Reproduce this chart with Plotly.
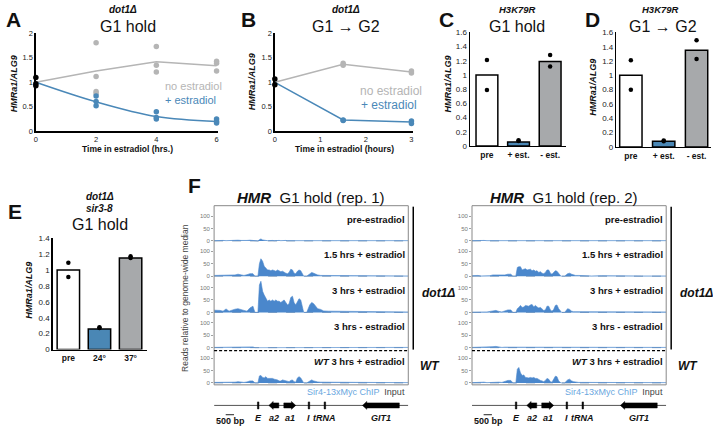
import plotly.graph_objects as go

W, H = 713, 430
FONT = "Liberation Sans, Arial, Helvetica, sans-serif"

# ---------------- data ----------------
# Panel A  (dot1Δ, G1 hold)
A_TIME = [0, 2, 4, 6]
A_NOEST_LINE = [1.0, 1.23, 1.42, 1.34]
A_EST_LINE = [1.0, 0.60, 0.30, 0.20]
A_PRE_V = [1.10, 0.97, 0.93]
A_NOEST_T = [2, 2, 2, 2, 4, 4, 4, 6, 6, 6]
A_NOEST_V = [1.81, 1.12, 0.81, 0.77, 1.73, 1.35, 1.21, 1.43, 1.39, 1.23]
A_EST_T = [2, 2, 2, 4, 4, 4, 6, 6, 6]
A_EST_V = [0.72, 0.61, 0.52, 0.40, 0.28, 0.25, 0.25, 0.20, 0.17]

# Panel B  (dot1Δ, G1 -> G2)
B_TIME = [0, 1.5, 3]
B_NOEST_LINE = [1.0, 1.37, 1.21]
B_EST_LINE = [1.0, 0.23, 0.19]
B_PRE_V = [1.07, 0.95]
B_NOEST_T = [1.5, 1.5, 3, 3]
B_NOEST_V = [1.39, 1.35, 1.23, 1.19]
B_EST_T = [1.5, 1.5, 3, 3]
B_EST_V = [0.23, 0.22, 0.21, 0.16]

# Panels C, D, E (bars + replicate dots)
CD_CATS = ["pre", "+ est.", "- est."]
C_BARS = [1.0, 0.055, 1.19]
C_DOT_X = [0, 0, 1, 1, 2, 2]
C_DOT_Y = [1.21, 0.79, 0.07, 0.08, 1.28, 1.12]
D_BARS = [1.0, 0.08, 1.35]
D_DOT_X = [0, 0, 1, 1, 2, 2]
D_DOT_Y = [1.21, 0.80, 0.09, 0.08, 1.49, 1.23]
E_CATS = ["pre", "24°", "37°"]
E_BARS = [1.0, 0.26, 1.15]
E_DOT_X = [0, 0, 1, 1, 2, 2]
E_DOT_Y = [1.09, 0.91, 0.27, 0.28, 1.17, 1.15]

# Panel F: Sir4 ChIP coverage across HMR (bin index, 60 bp bins)
BIN_KB = 0.06
F_SPAN_BINS = 195
F_BINS = [0, 3, 6, 9, 12, 15, 18, 21, 24, 27,
          30, 33, 36, 39, 41, 44, 45.5, 47, 48.7, 50.3,
          52, 53.7, 55.3, 57, 58.7, 60.3, 62, 63.7, 65.3, 67,
          68.7, 70.3, 72, 73.7, 75.3, 77, 78.7, 80.3, 82, 83.7,
          85.3, 87, 88.7, 90, 93, 96, 98, 100, 102, 104,
          107, 110, 115, 120, 130, 140, 150, 160, 170, 180,
          190, 195]
TRACK_NAMES = ["pre-estradiol", "1.5 hrs + estradiol", "3 hrs + estradiol",
               "3 hrs - estradiol", "<i>WT</i> 3 hrs + estradiol"]
L_PRE = [1, 2, 1, 2, 1, 2, 1, 2, 3, 2, 1, 2, 3, 2, 0, 0, 5, 8, 4, 2,
         2, 1, 2, 1, 2, 1, 2, 1, 2, 1, 2, 1, 2, 1, 1, 2, 2, 1, 1, 2,
         2, 2, 1, 0, 1, 2, 1, 2, 1, 1, 2, 1, 1, 2, 1, 1, 2, 1, 1, 2, 1, 1]
L_15 = [3, 3, 3, 2, 2, 2, 2, 5, 8, 5, 3, 6, 10, 10, 0, 0, 50, 70, 60, 40,
        30, 25, 25, 22, 25, 22, 20, 25, 22, 18, 20, 15, 12, 10, 15, 28, 25, 12, 10, 20,
        25, 22, 10, 0, 0, 8, 15, 12, 8, 5, 3, 3, 2, 2, 1, 2, 1, 2, 1, 2, 1, 1]
L_3P = [9, 9, 8, 5, 14, 5, 10, 13, 15, 10, 8, 5, 18, 25, 0, 0, 110, 125, 85, 70,
        60, 45, 50, 45, 50, 45, 50, 45, 45, 40, 45, 50, 40, 30, 35, 60, 65, 40, 30, 45,
        55, 50, 20, 0, 0, 30, 40, 35, 25, 15, 12, 6, 5, 5, 4, 3, 3, 2, 3, 2, 3, 2]
L_3M = [1, 1, 1, 1, 1, 1, 1, 2, 2, 1, 1, 3, 4, 3, 0, 0, 3, 3, 2, 3,
        3, 2, 2, 2, 1, 2, 2, 1, 2, 1, 1, 1, 2, 1, 1, 1, 2, 1, 1, 1,
        1, 1, 1, 0, 1, 1, 2, 1, 1, 1, 1, 1, 1, 1, 1, 1, 1, 1, 1, 1, 1, 1]
L_WT = [2, 2, 2, 1, 2, 1, 2, 3, 5, 3, 2, 4, 8, 8, 0, 0, 28, 30, 22, 20,
        25, 18, 18, 20, 18, 15, 15, 12, 8, 8, 12, 10, 8, 5, 5, 10, 12, 5, 3, 20,
        25, 20, 5, 0, 0, 8, 12, 8, 5, 4, 3, 3, 2, 2, 1, 2, 1, 1, 2, 1, 1, 1]
R_PRE = [1, 2, 1, 1, 2, 1, 1, 2, 2, 1, 1, 2, 2, 1, 0, 0, 2, 3, 2, 2,
         1, 2, 1, 2, 1, 2, 1, 2, 1, 1, 2, 1, 1, 1, 2, 1, 1, 1, 1, 2,
         1, 1, 1, 0, 1, 1, 1, 1, 1, 1, 2, 1, 1, 1, 1, 1, 2, 1, 1, 1, 1, 1]
R_15 = [2, 3, 3, 1, 1, 1, 2, 5, 5, 3, 2, 5, 8, 8, 0, 0, 35, 38, 38, 25,
        28, 30, 25, 25, 28, 22, 25, 20, 22, 15, 18, 12, 10, 15, 25, 25, 12, 8, 15, 22,
        20, 10, 3, 0, 0, 10, 12, 8, 4, 3, 3, 2, 2, 1, 2, 1, 1, 2, 1, 1, 2, 1]
R_3P = [1, 2, 1, 2, 2, 2, 3, 6, 8, 4, 2, 6, 10, 10, 0, 0, 15, 20, 28, 20,
        22, 28, 25, 25, 30, 32, 22, 28, 22, 18, 20, 12, 8, 10, 25, 25, 10, 5, 12, 28,
        30, 15, 3, 0, 0, 15, 12, 5, 3, 3, 2, 2, 2, 1, 3, 1, 2, 1, 3, 1, 1, 2]
R_3M = [1, 1, 1, 1, 1, 1, 2, 4, 5, 2, 1, 2, 2, 1, 0, 0, 2, 2, 2, 3,
        3, 2, 2, 3, 2, 2, 3, 2, 1, 2, 1, 1, 1, 1, 2, 1, 1, 1, 1, 1,
        2, 1, 1, 0, 1, 1, 1, 1, 1, 1, 1, 1, 1, 1, 1, 1, 1, 1, 1, 1, 1, 1]
R_WT = [1, 2, 1, 3, 3, 1, 2, 4, 5, 3, 2, 6, 10, 10, 0, 0, 55, 62, 40, 30,
        32, 22, 20, 20, 22, 20, 22, 18, 18, 12, 10, 8, 5, 10, 18, 15, 5, 3, 15, 27,
        25, 8, 2, 0, 0, 12, 15, 8, 5, 3, 2, 2, 2, 1, 1, 2, 1, 1, 1, 1, 1, 1]

# gene annotation (kb from left edge of the window)
GENE_NAMES = ["E", "a2", "a1", "I", "tRNA", "GIT1"]
GENE_START = [2.61, 3.30, 4.20, 5.67, 6.63, 8.94]
GENE_END = [2.70, 3.90, 4.92, 5.76, 6.72, 11.16]
GENE_STRAND = [0, -1, 1, 0, 0, -1]
SCALE_START_KB = 0.70
SCALE_KB = 0.5

# ---------------- styling / helpers ----------------
BLUE = "#4a88b8"
GREY = "#b5b5b5"
TRACK_BLUE = "#4a87cc"
BAR_COLORS = ["white", "#4a87b5", "#a7a9ab"]

fig = go.Figure()
layout = dict(width=W, height=H, margin=dict(l=0, r=0, t=0, b=0),
              paper_bgcolor="white", plot_bgcolor="white", showlegend=False,
              font=dict(family=FONT, color="#111"))
annotations = []
shapes = []


def fx(x):
    return x / W


def fy(y):
    return 1 - y / H


def add_axes(n, xpx, ypx, xr, yr, xkw=None, ykw=None):
    sfx = "" if n == 1 else str(n)
    base = dict(showgrid=False, zeroline=False, fixedrange=True)
    xa = dict(base, domain=[fx(xpx[0]), fx(xpx[1])], range=xr, anchor="y" + sfx)
    ya = dict(base, domain=[fy(ypx[0]), fy(ypx[1])], range=yr, anchor="x" + sfx)
    xa.update(xkw or {})
    ya.update(ykw or {})
    layout["xaxis" + sfx] = xa
    layout["yaxis" + sfx] = ya
    return "x" + sfx, "y" + sfx


def ann(text, x, y, size, color="#111", xanchor="center", yanchor="middle", angle=0):
    annotations.append(dict(text=text, x=fx(x), y=fy(y), xref="paper", yref="paper",
                            xanchor=xanchor, yanchor=yanchor, showarrow=False,
                            textangle=angle, font=dict(size=size, color=color, family=FONT)))


AX = dict(showline=True, linecolor="black", linewidth=1.5, ticks="",
          tickfont=dict(size=7.5, color="#222"))
BAR_X = dict(showline=True, linecolor="black", linewidth=1.5, ticks="",
             tickfont=dict(size=8.5, color="#111"))
BAR_Y = dict(AX, tickfont=dict(size=8, color="#222"))


def line_panel(n, xpx, ypx, xr, xticks, time, noest_line, est_line, pre_v,
               noest_t, noest_v, est_t, est_v, spline):
    xa, ya = add_axes(n, xpx, ypx, xr, [0, 2], dict(AX, tickvals=xticks),
                      dict(AX, tickvals=[0, 0.5, 1, 1.5, 2]))
    common = dict(xaxis=xa, yaxis=ya, cliponaxis=False, hoverinfo="skip")
    fig.add_trace(go.Scatter(x=time, y=noest_line, mode="lines",
                             line=dict(color=GREY, width=1.5), **common))
    fig.add_trace(go.Scatter(x=time, y=est_line, mode="lines",
                             line=dict(color=BLUE, width=1.5,
                                       shape="spline" if spline else "linear"), **common))
    fig.add_trace(go.Scatter(x=noest_t, y=noest_v, mode="markers",
                             marker=dict(color=GREY, size=5.5), **common))
    fig.add_trace(go.Scatter(x=est_t, y=est_v, mode="markers",
                             marker=dict(color=BLUE, size=5.5), **common))
    fig.add_trace(go.Scatter(x=[time[0]] * len(pre_v), y=pre_v, mode="markers",
                             marker=dict(color="black", size=5.5), **common))


line_panel(1, (34, 217), (130, 30), [0, 6.05], [0, 2, 4, 6], A_TIME, A_NOEST_LINE,
           A_EST_LINE, A_PRE_V, A_NOEST_T, A_NOEST_V, A_EST_T, A_EST_V, True)
line_panel(2, (274, 413), (130, 30), [0, 3.04], [0, 1, 2, 3], B_TIME, B_NOEST_LINE,
           B_EST_LINE, B_PRE_V, B_NOEST_T, B_NOEST_V, B_EST_T, B_EST_V, False)


def bar_panel(n, xpx, ypx, xr, yr, yticks, cats, bars, dot_x, dot_y, width):
    xa, ya = add_axes(n, xpx, ypx, xr, yr,
                      dict(BAR_X, tickvals=list(range(len(cats))),
                           ticktext=["<b>%s</b>" % c for c in cats]),
                      dict(BAR_Y, tickvals=yticks))
    fig.add_trace(go.Bar(x=list(range(len(cats))), y=bars, width=width,
                         marker=dict(color=BAR_COLORS, line=dict(color="black", width=1.5)),
                         xaxis=xa, yaxis=ya, hoverinfo="skip"))
    fig.add_trace(go.Scatter(x=dot_x, y=dot_y, mode="markers",
                             marker=dict(color="black", size=4.5),
                             xaxis=xa, yaxis=ya, cliponaxis=False, hoverinfo="skip"))


T16 = [0, 0.2, 0.4, 0.6, 0.8, 1, 1.2, 1.4, 1.6]
T14 = [0, 0.2, 0.4, 0.6, 0.8, 1, 1.2, 1.4]
bar_panel(3, (470, 566), (145, 29), [-0.535, 2.49], [0, 1.6], T16, CD_CATS, C_BARS,
          C_DOT_X, C_DOT_Y, 0.69)
bar_panel(4, (617, 712), (146, 29), [-0.44, 2.44], [0, 1.6], T16, CD_CATS, D_BARS,
          D_DOT_X, D_DOT_Y, 0.68)
bar_panel(5, (51, 146), (353, 239), [-0.5, 2.54], [0, 1.4], T14, E_CATS, E_BARS,
          E_DOT_X, E_DOT_Y, 0.72)

# ---------------- panel F ----------------
S = 0.254  # px per coverage unit
TRACK_ZERO_PX = [242, 278, 315, 351, 387]
TRACK_Y = dict(tickvals=[0, 50, 100], ticks="outside", ticklen=2, tickwidth=0.8,
               tickcolor="#888", tickfont=dict(size=6, color="#777"), showline=False)
xs_kb = [b * BIN_KB for b in F_BINS]
span_kb = F_SPAN_BINS * BIN_KB
sides = [(213, 408, [L_PRE, L_15, L_3P, L_3M, L_WT], "rep. 1", 310),
         (472, 667, [R_PRE, R_15, R_3P, R_3M, R_WT], "rep. 2", 564)]

for si, (xl, xrp, tracks, rep, tcx) in enumerate(sides):
    for i, vals in enumerate(tracks):
        n = 6 + si * 5 + i
        y0 = TRACK_ZERO_PX[i]
        xa, ya = add_axes(n, (xl, xrp), (y0 + 2, y0 - 34), [0, span_kb],
                          [-2 / S, 34 / S], dict(visible=False), dict(TRACK_Y))
        shapes.append(dict(type="line", xref=xa + " domain", x0=0, x1=1, yref=ya, y0=0, y1=0,
                           line=dict(color="#8fa3bb", width=1, dash="dash"), layer="below"))
        fig.add_trace(go.Scatter(x=xs_kb, y=vals, mode="lines", fill="tozeroy",
                                 fillcolor=TRACK_BLUE, line=dict(color=TRACK_BLUE, width=0.6),
                                 xaxis=xa, yaxis=ya, hoverinfo="skip"))
        ann("<b>%s</b>" % TRACK_NAMES[i], xrp - 1, y0 - 22, 9.5, xanchor="right")
    # box + separators
    shapes.append(dict(type="rect", xref="paper", yref="paper", x0=fx(xl), x1=fx(xrp),
                       y0=fy(389), y1=fy(206), line=dict(color="#888", width=1)))
    shapes.append(dict(type="line", xref="paper", yref="paper", x0=fx(xl), x1=fx(xrp),
                       y0=fy(354), y1=fy(354), line=dict(color="black", width=1.3, dash="3px,2px")))
    shapes.append(dict(type="line", xref="paper", yref="paper", x0=fx(xrp + 5), x1=fx(xrp + 5),
                       y0=fy(207), y1=fy(353), line=dict(color="black", width=1.5)))
    ann("<b><i>dot1Δ</i></b>", xrp + 12, 295, 12, xanchor="left")
    ann("<b><i>WT</i></b>", xrp + 10, 370, 12, xanchor="left")
    ann("<b><i>HMR</i></b>  G1 hold (%s)" % rep, tcx, 198, 15)
    ann('<span style="color:#6aa7e0">Sir4-13xMyc ChIP</span>  Input', xrp - 1, 396, 9,
        color="#444", xanchor="right")
    # gene annotation
    n = 16 + si
    xa, ya = add_axes(n, (xl, xrp), (420, 400), [0, span_kb], [-1, 1],
                      dict(visible=False), dict(visible=False))
    shapes.append(dict(type="line", xref=xa, yref=ya, x0=0, x1=span_kb, y0=0, y1=0,
                       line=dict(color="#555", width=1), layer="below"))
    for name, s0, s1, strand in zip(GENE_NAMES, GENE_START, GENE_END, GENE_STRAND):
        if strand == 0:
            px_ = [s0, s1, s1, s0, s0]
            py_ = [-0.36, -0.36, 0.36, 0.36, -0.36]
        else:
            hl = min(0.26, (s1 - s0) * 0.45)
            if strand < 0:
                px_ = [s1, s0 + hl, s0 + hl, s0, s0 + hl, s0 + hl, s1, s1]
            else:
                px_ = [s0, s1 - hl, s1 - hl, s1, s1 - hl, s1 - hl, s0, s0]
            py_ = [0.26, 0.26, 0.4, 0, -0.4, -0.26, -0.26, 0.26]
        fig.add_trace(go.Scatter(x=px_, y=py_, mode="lines", fill="toself", fillcolor="black",
                                 line=dict(color="black", width=0.5), xaxis=xa, yaxis=ya,
                                 hoverinfo="skip"))
        annotations.append(dict(text="<b><i>%s</i></b>" % name, x=(s0 + s1) / 2, xref=xa,
                                y=fy(423), yref="paper", xanchor="center", yanchor="middle",
                                showarrow=False, font=dict(size=9, color="#111", family=FONT)))
    shapes.append(dict(type="line", xref=xa, yref="paper", x0=SCALE_START_KB,
                       x1=SCALE_START_KB + SCALE_KB, y0=fy(419.5), y1=fy(419.5),
                       line=dict(color="#222", width=1)))
    ann("<b>%d bp</b>" % int(SCALE_KB * 1000), xl, 425.5, 9, xanchor="left")

ann("Reads relative to genome-wide median", 183, 300, 8.5, color="#444", angle=-90)

# ---------------- titles / labels ----------------
for letter, x, y in [("A", 2, 16), ("B", 238, 16), ("C", 437, 16), ("D", 583, 16),
                     ("E", 4, 212), ("F", 185, 185)]:
    ann("<b>%s</b>" % letter, x, y, 21, color="#111", xanchor="left")

ann("<b><i>dot1Δ</i></b>", 122, 6, 10)
ann("G1 hold", 127, 23, 16)
ann("<b><i>dot1Δ</i></b>", 345, 6, 10)
ann("G1 → G2", 345, 23, 16)
ann("<b><i>H3K79R</i></b>", 518, 6, 9.5)
ann("G1 hold", 517, 23, 16)
ann("<b><i>H3K79R</i></b>", 661, 6, 9.5)
ann("G1 → G2", 664, 23, 16)
ann("<b><i>dot1Δ</i></b>", 98, 197, 10)
ann("<b><i>sir3-8</i></b>", 98, 209, 10)
ann("G1 hold", 98, 225, 16)

YT = "<b><i>HMRa1/ALG9</i></b>"
ann(YT, 12, 81, 9, angle=-90)
ann(YT, 251, 79, 9, angle=-90)
ann(YT, 448, 82, 9, angle=-90)
ann(YT, 594, 85, 9, angle=-90)
ann(YT, 27, 292, 9, angle=-90)

ann("<b>Time in estradiol (hrs.)</b>", 126, 148, 8.5)
ann("<b>Time in estradiol (hours)</b>", 344, 148, 8.5)

ann("no estradiol", 162, 84, 11, color=GREY, xanchor="left")
ann("+ estradiol", 162, 98, 11, color=BLUE, xanchor="left")
ann("no estradiol", 358, 89, 12, color=GREY, xanchor="left")
ann("+ estradiol", 359, 103, 12, color=BLUE, xanchor="left")

layout["annotations"] = annotations
layout["shapes"] = shapes
fig.update_layout(**layout)
fig.write_html("out.html", config={"displayModeBar": False, "staticPlot": True},
               post_script="document.documentElement.style.margin='0';"
                           "document.body.style.margin='0';"
                           "document.body.style.overflow='hidden';")
